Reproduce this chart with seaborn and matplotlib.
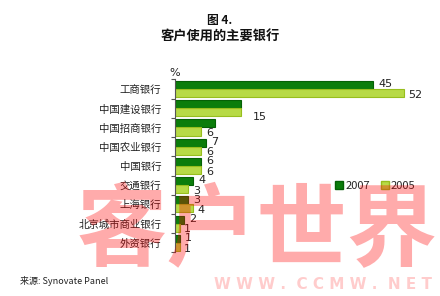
import matplotlib
matplotlib.use("Agg")
import matplotlib.pyplot as plt
from matplotlib.patches import Patch
import seaborn as sns
import pandas as pd

banks = ["工商银行", "中国建设银行", "中国招商银行", "中国农业银行", "中国银行",
         "交通银行", "上海银行", "北京城市商业银行", "外资银行"]
v2007 = [45, 15, 9, 7, 6, 4, 3, 2, 1]
v2005 = [52, 15, 6, 6, 6, 3, 4, 1, 1]
lab2007 = ["45", "", "", "7", "6", "4", "3", "2", "1"]
lab2005 = ["52", "15", "6", "6", "6", "3", "4", "1", "1"]
years = ["2007", "2005"]
title1 = "图 4."
title2 = "客户使用的主要银行"
source = "来源: Synovate Panel"

sns.set_style("white")
plt.rcParams["font.family"] = ["Noto Sans CJK SC", "DejaVu Sans"]

df = pd.DataFrame({
    "bank": banks * 2,
    "year": ["2007"] * len(banks) + ["2005"] * len(banks),
    "value": v2007 + v2005,
})

dark = "#0B7D0B"
light = "#B7DA46"
fig = plt.figure(figsize=(4.4, 2.96), dpi=100)
ax = fig.add_axes([0.398, 0.147, 0.56, 0.585])
sns.barplot(data=df, y="bank", x="value", hue="year", hue_order=years,
            palette={"2007": dark, "2005": light}, orient="h", width=0.84,
            ax=ax, legend=False, saturation=1)
for i, p in enumerate(ax.patches[:2 * len(banks)]):
    if i < len(banks):
        p.set_edgecolor("#056005")
    else:
        p.set_edgecolor("#97BE1E")
    p.set_linewidth(0.8)

ax.set_xlim(0, 56.1)
ax.set_ylim(len(banks) - 0.5, -0.5)
ax.set_xlabel("")
ax.set_ylabel("")
ax.set_xticks([])
for s in ["top", "right", "bottom"]:
    ax.spines[s].set_visible(False)
ax.spines["left"].set_color("#555555")
ax.spines["left"].set_linewidth(0.8)
ax.set_yticks([i + 0.5 for i in range(-1, len(banks))], minor=True)
ax.tick_params(axis="y", which="minor", length=3, width=0.8, color="#555555", left=True)
ax.tick_params(axis="y", which="major", length=0, labelsize=7.5, pad=10, labelcolor="#222222")

for i in range(len(banks)):
    if lab2007[i]:
        ax.text(v2007[i] + 1.2, i - 0.25, lab2007[i], fontsize=8, va="center",
                ha="left", color="#222222", family="DejaVu Sans")
    if lab2005[i]:
        dx = 2.6 if lab2005[i] == "15" else 1.0
        dy = 0.45 if lab2005[i] == "15" else 0.3
        ax.text(v2005[i] + dx, i + dy, lab2005[i], fontsize=8, va="center",
                ha="left", color="#222222", family="DejaVu Sans")

fig.text(0.385, 0.738, "%", fontsize=8, ha="left", va="bottom", color="#222222",
         family="DejaVu Sans")

fig.text(0.5, 0.93, title1, fontsize=8.5, fontweight="bold", fontstyle="italic",
         ha="center", va="center", color="#111111")
fig.text(0.5, 0.877, title2, fontsize=9.5, fontweight="bold",
         ha="center", va="center", color="#111111")
fig.text(0.045, 0.052, source, fontsize=6.5, fontstyle="italic",
         ha="left", va="center", color="#222222")

handles = [Patch(facecolor=dark, edgecolor="#056005"),
           Patch(facecolor=light, edgecolor="#97BE1E")]
fig.legend(handles, years, loc="center left", bbox_to_anchor=(0.762, 0.372),
           ncol=2, frameon=False, fontsize=8, handlelength=0.7, handleheight=0.7,
           handletextpad=0.2, columnspacing=1.0, borderpad=0, borderaxespad=0)

# watermark
fig.text(0.585, 0.215, "客户世界", fontsize=65, fontweight="heavy", color="red",
         alpha=0.33, ha="center", va="center", zorder=10)
fig.text(0.735, 0.04, "W W W .  C C M W .  N E T", fontsize=11, fontweight="bold",
         color="red", alpha=0.2, ha="center", va="center", family="DejaVu Sans",
         zorder=10)

fig.savefig("out.png", dpi=100)
